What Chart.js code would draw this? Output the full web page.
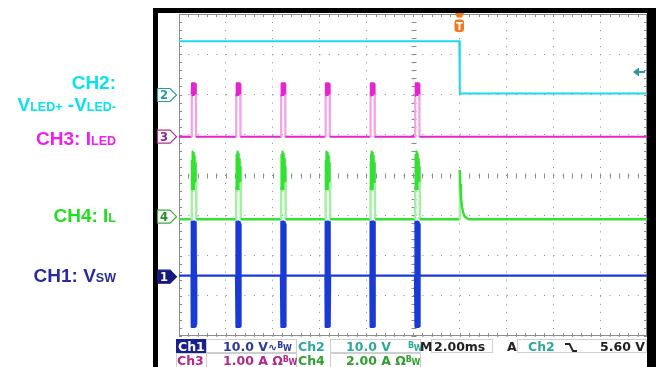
<!DOCTYPE html>
<html>
<head>
<meta charset="utf-8">
<script src="https://cdn.jsdelivr.net/npm/chart.js@4.4.0/dist/chart.umd.min.js"></script>
<style>
  html, body { margin: 0; padding: 0; background: #fff; }
  #wrap { position: relative; width: 656px; height: 367px; overflow: hidden; }
  #scope { position: absolute; left: 0; top: 0; }
  #overlay { position: absolute; left: 0; top: 0; pointer-events: none; }
</style>
</head>
<body>
<div id="wrap">
  <canvas id="scope" width="656" height="367"></canvas>
  <svg id="overlay" width="656" height="367" xmlns="http://www.w3.org/2000/svg">
    <!-- scope bezel -->
    <rect x="153" y="8" width="5" height="359" fill="#000"/>
    <rect x="153" y="8" width="503" height="5" fill="#000"/>
    <rect x="647" y="8" width="9" height="359" fill="#000"/>

    <!-- channel names -->
    <g font-family="Liberation Sans, Arial, sans-serif" font-weight="bold" font-size="19" text-anchor="end">
      <text x="116" y="89" fill="#0be0ee">CH2:</text>
      <text x="116" y="111" fill="#0be0ee">V<tspan font-size="12.5">LED+</tspan> -V<tspan font-size="12.5">LED-</tspan></text>
      <text x="116" y="145" fill="#f01cf0">CH3: I<tspan font-size="12.5">LED</tspan></text>
      <text x="116" y="222" fill="#22dd22">CH4: I<tspan font-size="12.5">L</tspan></text>
      <text x="116" y="282" fill="#2b2b9b">CH1: V<tspan font-size="12.5">SW</tspan></text>
    </g>

    <!-- ground markers -->
    <g font-family="DejaVu Sans, sans-serif" font-weight="bold" font-size="11.5" text-anchor="middle">
      <path d="M157.5,88.5 H170 L176.5,95 L170,101.5 H157.5 Z" fill="#fff" stroke="#2a9c9c" stroke-width="1.2"/>
      <text x="164" y="99.2" fill="#2a9c9c">2</text>
      <path d="M157.5,130.2 H170 L176.5,136.7 L170,143.2 H157.5 Z" fill="#fff" stroke="#b0308f" stroke-width="1.2"/>
      <text x="164" y="140.9" fill="#8a2a7a">3</text>
      <path d="M157.5,210.2 H170 L176.5,216.7 L170,223.2 H157.5 Z" fill="#fff" stroke="#3aa83a" stroke-width="1.2"/>
      <text x="164" y="220.9" fill="#2a8a2a">4</text>
      <path d="M157.5,270.2 H170 L176.5,276.7 L170,283.2 H157.5 Z" fill="#161a80" stroke="#161a80" stroke-width="1.2"/>
      <text x="164" y="280.9" fill="#fff">1</text>
    </g>

    <!-- trigger position and level -->
    <path d="M455,13 H464 L462,17.5 H457 Z" fill="#f07a1a"/>
    <rect x="454.5" y="19.5" width="9.5" height="12.5" rx="3" fill="#f07a1a"/>
    <text x="459.3" y="29.5" font-family="DejaVu Sans, sans-serif" font-weight="bold" font-size="10" fill="#fff" text-anchor="middle">T</text>
    <path d="M633,72 L639,67.5 L639,76.5 Z" fill="#2a9a9a"/>
    <rect x="639" y="71" width="6" height="2" fill="#2a9a9a"/>

    <!-- status bar -->
    <g fill="none" stroke="#cfcfcf" stroke-width="1">
      <rect x="206.5" y="339.5" width="90" height="13"/>
      <rect x="330.5" y="339.5" width="90" height="13"/>
      <rect x="431.5" y="339.5" width="61" height="13"/>
      <rect x="517.5" y="339.5" width="129" height="13"/>
      <rect x="176.5" y="353.5" width="30" height="14"/>
      <rect x="206.5" y="353.5" width="90" height="14"/>
      <rect x="330.5" y="353.5" width="90" height="14"/>
    </g>
    <rect x="176" y="339" width="30" height="14" fill="#1a1f8c"/>
    <g font-family="DejaVu Sans, sans-serif" font-weight="bold" font-size="12.5">
      <text x="178" y="351" fill="#fff">Ch1</text>
      <text x="223" y="351" fill="#2a3a9a">10.0 V</text>
      <text x="268" y="351" fill="#2a3a9a" font-size="11">∿<tspan font-size="8" dy="-3">B</tspan><tspan font-size="8" dy="3">W</tspan></text>
      <text x="298" y="351" fill="#30a898">Ch2</text>
      <text x="346" y="351" fill="#30a898">10.0 V</text>
      <text x="408" y="351" fill="#30a898"><tspan font-size="8" dy="-3">B</tspan><tspan font-size="8" dy="3">W</tspan></text>
      <text x="420" y="351" fill="#222">M</text>
      <text x="434" y="351" fill="#222">2.00ms</text>
      <text x="507" y="351" fill="#222">A</text>
      <text x="528" y="351" fill="#30a898">Ch2</text>
      <text x="600" y="351" fill="#222">5.60 V</text>

      <text x="177" y="365" fill="#b02a8e">Ch3</text>
      <text x="223" y="365" fill="#b02a8e">1.00 A Ω<tspan font-size="8" dy="-3">B</tspan><tspan font-size="8" dy="3">W</tspan></text>
      <text x="298" y="365" fill="#30a030">Ch4</text>
      <text x="346" y="365" fill="#30a030">2.00 A Ω<tspan font-size="8" dy="-3">B</tspan><tspan font-size="8" dy="3">W</tspan></text>
    </g>
    <path d="M565,344 H569.5 L573,351 H577" fill="none" stroke="#222" stroke-width="1.8"/>
  </svg>
</div>
<script>
// time axis in ms, relative to the trigger (2.00 ms/div, 10 div)
const timeMin = -12;
const timeMax = 8;

// vertical setup per channel [ch1, ch2, ch3, ch4]: units per div, ground offset in div from centre
const unitsPerDiv = [10, 10, 1, 2];
const groundDiv = [-2.5, 2, 1, -1];

// start of each switching burst (ms)
const pulseStarts = [-11.46, -9.56, -7.64, -5.74, -3.82, -1.91];

// CH2: V_LED+ - V_LED- (V)
const ch2Times = [-12, -0.02, 0.0, 8];
const ch2Volts = [13.2, 13.2, 0.25, 0.25];

// CH3: I_LED (A), one burst
const ch3Base = -0.05;
const ch3PulseT = [0, 0.006, 0.02, 0.035, 0.05, 0.065, 0.08, 0.095, 0.11, 0.125, 0.14, 0.155, 0.17, 0.18, 0.186];
const ch3PulseA = [-0.05, 1.0, 1.28, 0.98, 1.27, 1.0, 1.28, 0.99, 1.27, 1.0, 1.28, 1.0, 1.26, 0.98, -0.05];

// CH4: I_L (A), one burst and the tail after the trigger
const ch4Base = -0.2;
const ch4PulseT = [0, 0.006, 0.015, 0.025, 0.035, 0.045, 0.055, 0.065, 0.075, 0.085, 0.095, 0.105, 0.115, 0.125, 0.135, 0.145, 0.155, 0.165, 0.175, 0.185, 0.195, 0.2];
const ch4PulseA = [-0.2, 1.4, 2.7, 1.3, 3.0, 1.4, 3.16, 1.3, 3.1, 1.4, 3.05, 1.3, 2.95, 1.4, 2.8, 1.3, 2.6, 1.4, 2.4, 1.3, 1.6, -0.2];
const ch4TailT = [-0.01, 0.0, 0.02, 0.05, 0.09, 0.14, 0.2, 0.3, 0.4];
const ch4TailA = [-0.2, 2.25, 1.5, 0.9, 0.45, 0.15, -0.05, -0.15, -0.2];

// CH1: V_SW (V), one burst
const ch1Base = 0;
const ch1PulseT = [0, 0.004, 0.012, 0.02, 0.028, 0.036, 0.044, 0.052, 0.06, 0.068, 0.076, 0.084, 0.092, 0.1, 0.108, 0.116, 0.124, 0.132, 0.14, 0.148, 0.156, 0.164, 0.172, 0.18, 0.188, 0.194];
const ch1PulseV = [0, 13.4, -12.7, 13.2, -12.5, 13.4, -12.6, 13.0, -12.7, 13.3, -12.4, 13.4, -12.7, 13.1, -12.5, 13.4, -12.6, 13.2, -12.7, 13.0, -12.3, 13.3, -12.6, 12.8, -12.0, 0];

function pairs(ts, ys) {
    return ts.map((t, i) => ({ x: t, y: ys[i] }));
}

function bursts(base, tmplT, tmplY, extra) {
    const pts = [{ x: timeMin, y: base }];
    pulseStarts.forEach((s) => {
        tmplT.forEach((dt, i) => pts.push({ x: s + dt, y: tmplY[i] }));
    });
    if (extra) extra.forEach((p) => pts.push(p));
    pts.push({ x: timeMax, y: base });
    return pts;
}

function channelAxis(i) {
    return {
        type: 'linear',
        display: false,
        min: (-4 - groundDiv[i]) * unitsPerDiv[i],
        max: (4 - groundDiv[i]) * unitsPerDiv[i],
    };
}

// lighter colour on the fast edges, like the phosphor on the scope
const edgeColor = (light) => (ctx) => {
    const a = ctx.p0.parsed.y;
    const b = ctx.p1.parsed.y;
    return Math.min(a, b) < 0.3 && Math.max(a, b) > 0.9 ? light : undefined;
};

const graticule = {
    id: 'graticule',
    beforeDatasetsDraw(chart) {
        const { ctx, chartArea: a, scales } = chart;
        const xs = scales.x;
        const ys = scales.div;
        const cx = Math.round(xs.getPixelForValue(-2)) + 0.5;
        const cy = Math.round(ys.getPixelForValue(0)) + 0.5;
        ctx.save();
        ctx.strokeStyle = '#8c8c8c';
        ctx.lineWidth = 1;
        ctx.strokeRect(a.left + 0.5, a.top + 0.5, a.width - 1, a.height - 1);
        ctx.beginPath();
        for (let i = 0; i <= 50; i++) {
            const px = Math.round(xs.getPixelForValue(timeMin + i * 0.4)) + 0.5;
            ctx.moveTo(px, cy - 2);
            ctx.lineTo(px, cy + 3);
            ctx.moveTo(px, a.top);
            ctx.lineTo(px, a.top + 3);
            ctx.moveTo(px, a.bottom);
            ctx.lineTo(px, a.bottom - 3);
        }
        for (let j = 0; j <= 40; j++) {
            const py = Math.round(ys.getPixelForValue(-4 + j * 0.2)) + 0.5;
            ctx.moveTo(cx - 2, py);
            ctx.lineTo(cx + 3, py);
            ctx.moveTo(a.left, py);
            ctx.lineTo(a.left + 3, py);
            ctx.moveTo(a.right, py);
            ctx.lineTo(a.right - 3, py);
        }
        ctx.stroke();
        ctx.restore();
    },
};

new Chart(document.getElementById('scope'), {
    type: 'line',
    data: {
        datasets: [
            {
                label: 'CH2',
                data: pairs(ch2Times, ch2Volts),
                yAxisID: 'ch2',
                borderColor: '#1fd9e8',
                borderWidth: 2,
            },
            {
                label: 'CH3',
                data: bursts(ch3Base, ch3PulseT, ch3PulseA),
                yAxisID: 'ch3',
                borderColor: '#e424cc',
                borderWidth: 2.2,
                segment: { borderColor: edgeColor('#f3a2e8') },
            },
            {
                label: 'CH4',
                data: bursts(ch4Base, ch4PulseT, ch4PulseA, pairs(ch4TailT, ch4TailA)),
                yAxisID: 'ch4',
                borderColor: '#34e034',
                borderWidth: 2.4,
                segment: { borderColor: edgeColor('#a2f0a2') },
            },
            {
                label: 'CH1',
                data: bursts(ch1Base, ch1PulseT, ch1PulseV),
                yAxisID: 'ch1',
                borderColor: '#1a3ad6',
                borderWidth: 2.4,
            },
        ],
    },
    options: {
        responsive: false,
        animation: false,
        events: [],
        elements: {
            point: { radius: 0 },
            line: { tension: 0, borderJoinStyle: 'round' },
        },
        layout: { padding: { left: 179, top: 14, right: 9, bottom: 31 } },
        scales: {
            x: {
                type: 'linear',
                min: timeMin,
                max: timeMax,
                ticks: { display: false, stepSize: 2 },
                grid: { color: '#8a8a8a', lineWidth: 1, drawTicks: false },
                border: { display: false, dash: [1, 7.05] },
            },
            div: {
                type: 'linear',
                position: 'left',
                min: -4,
                max: 4,
                ticks: { display: false, stepSize: 1 },
                grid: { color: '#8a8a8a', lineWidth: 1, drawTicks: false },
                border: { display: false, dash: [1, 8.36] },
            },
            ch1: channelAxis(0),
            ch2: channelAxis(1),
            ch3: channelAxis(2),
            ch4: channelAxis(3),
        },
        plugins: { legend: { display: false }, tooltip: { enabled: false } },
    },
    plugins: [graticule],
});
</script>
</body>
</html>
